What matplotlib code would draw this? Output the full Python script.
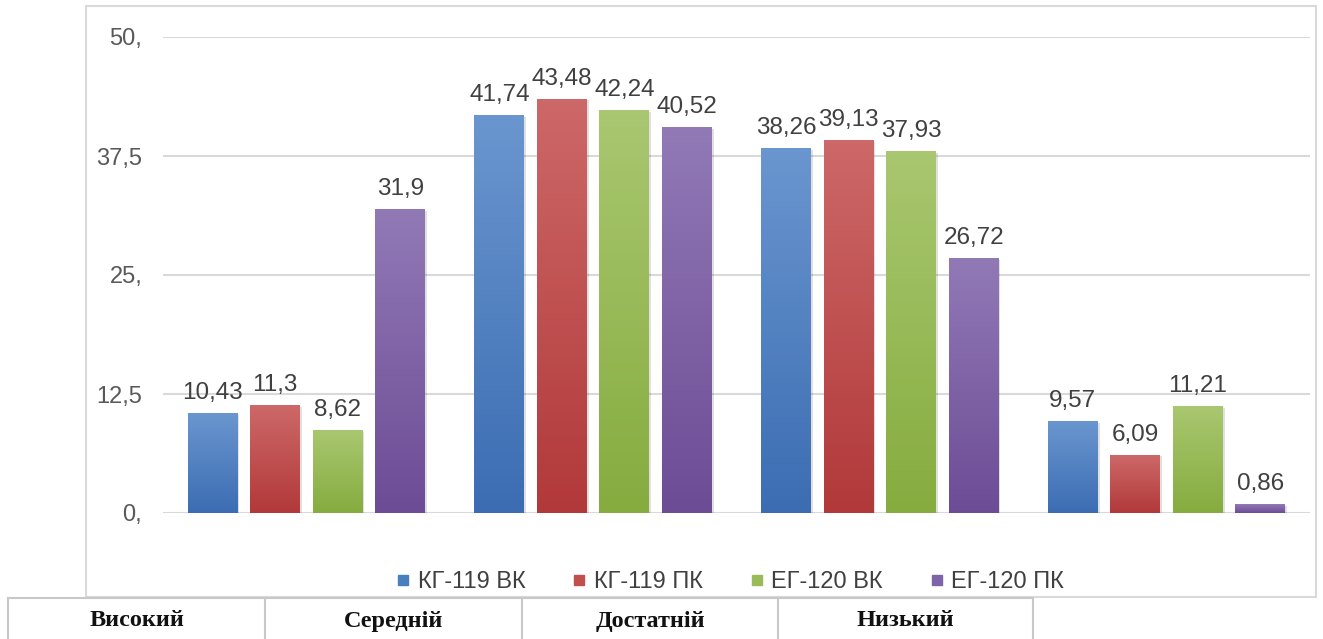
import matplotlib.pyplot as plt
import numpy as np
from matplotlib.colors import LinearSegmentedColormap
from matplotlib.lines import Line2D
from matplotlib.patches import Rectangle

# categories and series
categories = ['Високий', 'Середній', 'Достатній', 'Низький']
series_names = ['КГ-119 ВК', 'КГ-119 ПК', 'ЕГ-120 ВК', 'ЕГ-120 ПК']
kg119_vk = [10.43, 41.74, 38.26, 9.57]
kg119_pk = [11.3, 43.48, 39.13, 6.09]
eg120_vk = [8.62, 42.24, 37.93, 11.21]
eg120_pk = [31.9, 40.52, 26.72, 0.86]
yticks = [0, 12.5, 25, 37.5, 50]
ytick_labels = ['0,', '12,5', '25,', '37,5', '50,']

series = [kg119_vk, kg119_pk, eg120_vk, eg120_pk]
# (top colour, bottom colour) for the gradient fill
grads = [('#6a96cf', '#3c6db3'),
         ('#cd6868', '#b2393a'),
         ('#a9c770', '#86ac3f'),
         ('#9179b6', '#6d4c96')]
legend_colors = ['#4a7ebf', '#c0504d', '#9bbb59', '#7f62a8']

plt.rcParams['font.family'] = ['Liberation Sans', 'DejaVu Sans']

fig = plt.figure(figsize=(13.23, 6.39), dpi=100)
ax = fig.add_axes([163 / 1323, 126 / 639, 1147 / 1323, 476 / 639])

W = 1323
H = 639

width = 0.174
step = 0.218
x = np.arange(len(categories))

for j, vals in enumerate(series):
    pos = x + (j - 1.5) * step
    bars = ax.bar(pos, vals, width, color='none', zorder=3)
    cmap = LinearSegmentedColormap.from_list('g%d' % j, [grads[j][1], grads[j][0]])
    for b, v in zip(bars, vals):
        x0 = b.get_x()
        # soft shadow
        ax.add_patch(Rectangle((x0 + 0.006, 0), width, v - 0.15, color='#000000',
                               alpha=0.12, lw=0, zorder=2))
        grad = np.linspace(0, 1, 100).reshape(-1, 1)
        ax.imshow(grad, extent=[x0, x0 + width, 0, v], origin='lower',
                  aspect='auto', cmap=cmap, zorder=3)
        ax.text(b.get_x() + width / 2, v + 1.0, ('%g' % v).replace('.', ','),
                ha='center', va='bottom', fontsize=17.5, color='#404040', zorder=4)

ax.set_xlim(-0.5, len(categories) - 0.5)
ax.set_ylim(0, 50)
ax.set_yticks(yticks)
ax.set_yticklabels(ytick_labels)
ax.set_xticks([])
ax.tick_params(axis='y', length=0, pad=15, labelsize=17, labelcolor='#595959')
ax.grid(axis='y', color='#d9d9d9', lw=1.5, zorder=0)
for s in ax.spines.values():
    s.set_visible(False)

# outer chart frame
fig.add_artist(Rectangle((86 / W, 1 - 597 / H), 1230 / W, 591 / H,
                         transform=fig.transFigure, fill=False,
                         edgecolor='#d9d9d9', lw=1.5))

# legend
handles = [Line2D([], [], marker='s', ls='none', markersize=7.5, color=c)
           for c in legend_colors]
fig.legend(handles, series_names, loc='center', bbox_to_anchor=(730 / W, 1 - 582 / H),
           ncol=4, frameon=False, fontsize=17, handlelength=0.6, handletextpad=0.3,
           columnspacing=2.0, labelcolor='#404040')

# table row with category names
cell_edges = [8, 265, 522, 778, 1033]
fig.add_artist(Line2D([8 / W, 1033 / W], [1 - 598 / H, 1 - 598 / H],
                      transform=fig.transFigure, color='#c8c8c8', lw=1.5))
for e in cell_edges:
    fig.add_artist(Line2D([e / W, e / W], [0, 1 - 598 / H],
                          transform=fig.transFigure, color='#c8c8c8', lw=1.5))
for k, name in enumerate(categories):
    cx = (cell_edges[k] + cell_edges[k + 1]) / 2 / W
    fig.text(cx, 1 - 621 / H, name, ha='center', va='center', fontsize=17.5,
             fontweight='bold', family=['Liberation Serif', 'DejaVu Serif'], color='#111111')

fig.savefig('out.png', dpi=100)
